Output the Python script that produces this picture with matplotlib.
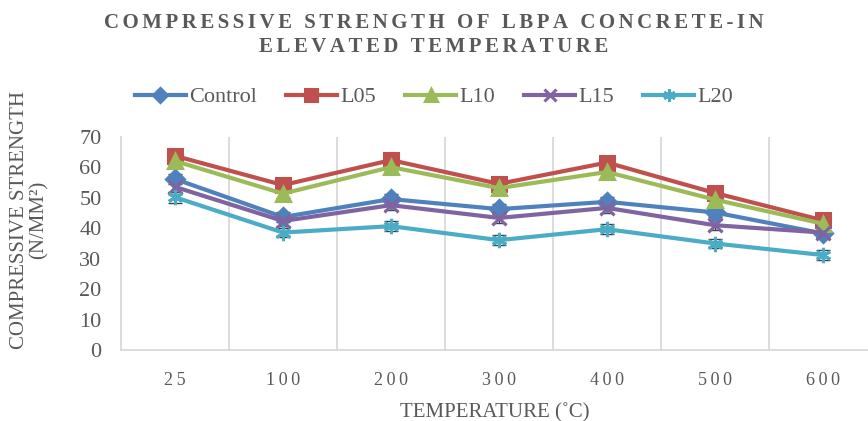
import matplotlib as mpl
import numpy as np
import matplotlib.pyplot as plt

plt.rcParams['font.family'] = ['Liberation Serif', 'DejaVu Serif']

temps = ['25', '100', '200', '300', '400', '500', '600']
control = [56.2, 43.7, 49.6, 46.3, 48.7, 45.2, 38.3]
l05 = [63.8, 54.2, 62.4, 54.6, 61.6, 51.6, 42.6]
l10 = [62.1, 51.4, 60.1, 53.2, 58.5, 49.4, 41.5]
l15 = [53.6, 42.4, 47.6, 43.4, 46.7, 41.0, 38.6]
l20 = [50.2, 38.6, 40.7, 36.1, 39.7, 35.0, 31.2]
err = [1.8, 1.6, 1.7, 1.6, 1.7, 1.6, 1.5]

names = ['Control', 'L05', 'L10', 'L15', 'L20']
colors = ['#4F81BD', '#C0504D', '#9BBB59', '#8064A2', '#4BACC6']
markers = ['D', 's', '^', 'x', (6, 2, 0)]
sizes = [9, 10, 10, 10, 11]

def spaced(s, sp='\u2009'):
    return sp.join(s)

fig = plt.figure(figsize=(8.68, 4.21), dpi=100)
ax = fig.add_axes([121/868, 71/421, 747/868, 213/421])

x = np.arange(len(temps))
for vals, name, c, m, ms in zip([control, l05, l10, l15, l20], names, colors, markers, sizes):
    ax.errorbar(x, vals, yerr=err, fmt='none', ecolor='#404040', elinewidth=1,
                capsize=5, capthick=1, zorder=2)
    ax.plot(x, vals, color=c, lw=3, marker=m, ms=ms, mec=c, mew=2.2, label=name, zorder=3)

ax.set_xlim(-0.5, -0.5 + 747/108)
ax.set_ylim(0, 70)
ax.set_yticks(range(0, 71, 10))
ax.set_xticks(x)
ax.set_xticklabels([spaced(t) for t in temps])
for b in np.arange(0.5, 6.5, 1):
    ax.axvline(b, color='#d9d9d9', lw=1.3, zorder=0)

for s in ['top', 'right']:
    ax.spines[s].set_visible(False)
ax.spines['left'].set_color('#d9d9d9')
ax.spines['bottom'].set_color('#d9d9d9')
ax.spines['left'].set_linewidth(1.3)
ax.spines['bottom'].set_linewidth(1.3)
ax.tick_params(length=0, colors='#595959')
ax.tick_params(axis='y', labelsize=16, pad=14)
ax.tick_params(axis='x', labelsize=13, pad=16)

ax.set_ylabel('COMPRESSIVE STRENGTH\n(N/MM²)', fontsize=15, color='#595959',
              linespacing=1.0)
ax.yaxis.set_label_coords(-0.097, 0.61)
ax.set_xlabel('TEMPERATURE (˚C)', fontsize=15, color='#595959', labelpad=10)

fig.text(0.5, 0.97, spaced('COMPRESSIVE STRENGTH OF LBPA CONCRETE-IN', '\u200a\u200a') + '\n'
         + spaced('ELEVATED TEMPERATURE', '\u200a\u200a'), ha='center', va='top', fontsize=15,
         fontweight='bold', color='#595959', linespacing=1.3)

fig.legend(loc='center', bbox_to_anchor=(0.5, 1 - 97/421), ncol=5, frameon=False,
           fontsize=16, handlelength=2.3, columnspacing=1.3, handletextpad=0.15,
           labelcolor='#595959', markerscale=0.8)

plt.savefig('out.png', dpi=100)
